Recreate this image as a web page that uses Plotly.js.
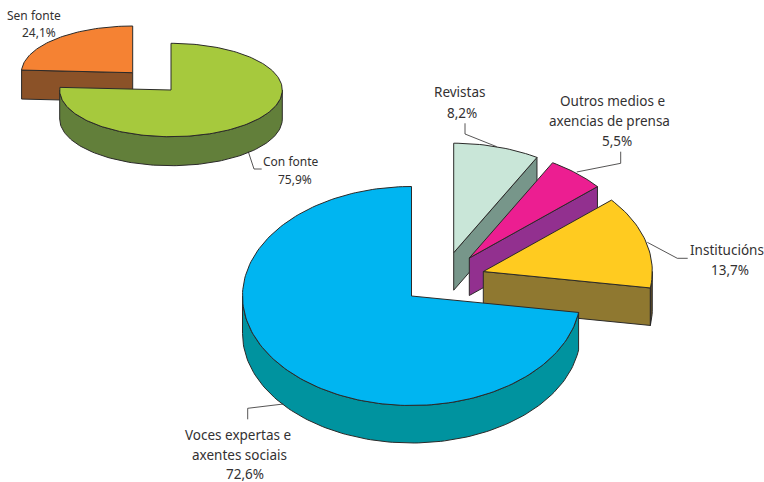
<!DOCTYPE html>
<html>
<head>
<meta charset="utf-8">
<script src="https://cdn.plot.ly/plotly-3.0.1.min.js"></script>
<style>html,body{margin:0;padding:0;background:#fff}</style>
</head>
<body>
<div id="chart" style="width:764px;height:482px"></div>
<script>
// Data, clockwise from 12 o'clock
var bigCategories = ["Revistas", "Outros medios e axencias de prensa", "Institucións", "Voces expertas e axentes sociais"];
var bigValues = [8.2, 5.5, 13.7, 72.6];
var smallCategories = ["Con fonte", "Sen fonte"];
var smallValues = [75.9, 24.1];

// Category label wrapping
var bigLines = [["Revistas"], ["Outros medios e", "axencias de prensa"], ["Institucións"], ["Voces expertas e", "axentes sociais"]];
var smallLines = [["Con fonte"], ["Sen fonte"]];

// Styles and positions
var bigStyle = [
  {top:"#C9E6D8", face:"#77968A", wall:"#77968A", cx:453.7, cy:252.7},
  {top:"#EC1E91", face:"#92308F", wall:"#92308F", cx:469.3, cy:258},
  {top:"#FFCB20", face:"#8F7830", wall:"#5F4E2A", cx:483.3, cy:271.5},
  {top:"#00B5F1", face:"#00939F", wall:"#00939F", cx:411.5, cy:296}
];
var smallStyle = [
  {top:"#A6C93D", face:"#627F3A", wall:"#627F3A", cx:171, cy:90},
  {top:"#F58233", face:"#8B5228", wall:"#8B5228", cx:132.7, cy:72.7}
];
var bigGeom = {rx:169, ry:109.5, depth:37.5};
var smallGeom = {rx:111.3, ry:46.7, depth:29};

var bigLabelPos = [
  [[459,92],[462,112.7]],
  [[612.7,100.7],[609,120.7],[617,141]],
  [[726.7,250],[730,270]],
  [[238.3,435],[239.3,455],[245,474]]
];
var smallLabelPos = [
  [[290.7,161.7],[295.3,179]],
  [[34,15.7],[38.7,32.7]]
];
var leaders = [
  [[465,123.3],[465,134],[496.7,146.7]],
  [[620.7,151.7],[620.7,163.3],[576.7,172]],
  [[647.3,242.3],[677.3,258.3],[687.7,258.3]],
  [[283.3,404],[247.7,408.3],[247.7,419.3]],
  [[248.3,151.7],[254,169],[261.7,169]]
];

var INK = "#2b2a29", TEXT = "#333132";
var FONT = '"Noto Sans", "Open Sans", sans-serif';
var BIG_SIZE = 13.5, SMALL_SIZE = 12;
var traces = [];

function rad(d){ return d*Math.PI/180; }
function px(g,c,a){ return c.cx + g.rx*Math.sin(rad(a)); }
function py(g,c,a){ return c.cy - g.ry*Math.cos(rad(a)); }
function arc(g,c,a0,a1,dy){
  var xs=[],ys=[],n=Math.max(2,Math.ceil(Math.abs(a1-a0)/1.5));
  for(var i=0;i<=n;i++){
    var a=a0+(a1-a0)*i/n;
    xs.push(px(g,c,a)); ys.push(py(g,c,a)+(dy||0));
  }
  return {x:xs,y:ys};
}
function poly(xs,ys,fill){
  traces.push({type:"scatter",mode:"lines",x:xs,y:ys,fill:"toself",fillcolor:fill,
    line:{color:INK,width:1},hoverinfo:"skip",showlegend:false});
}
function radialFace(g,c,a){
  var ex=px(g,c,a), ey=py(g,c,a);
  poly([c.cx,ex,ex,c.cx,c.cx],[c.cy,ey,ey+g.depth,c.cy+g.depth,c.cy],c.face);
}
function drawSlice(g,c,a0,a1){
  // radial cut faces that turn toward the viewer
  if(a1<180) radialFace(g,c,a1);
  if(a0>180) radialFace(g,c,a0);
  // outer wall, visible from 90 to 270 degrees
  var w0=Math.max(a0,90), w1=Math.min(a1,270);
  if(w1>w0){
    var t=arc(g,c,w0,w1,0), b=arc(g,c,w1,w0,g.depth);
    poly(t.x.concat(b.x,[t.x[0]]),t.y.concat(b.y,[t.y[0]]),c.wall);
  }
  // top surface
  var s=arc(g,c,a0,a1,0);
  poly([c.cx].concat(s.x,[c.cx]),[c.cy].concat(s.y,[c.cy]),c.top);
}
function angles(values){
  var total=values.reduce(function(p,v){return p+v;},0),acc=0;
  return values.map(function(v){var a0=acc/total*360;acc+=v;return [a0,acc/total*360];});
}

// Small pie: orange behind, then green
var sa=angles(smallValues);
drawSlice(smallGeom,smallStyle[1],sa[1][0],sa[1][1]);
drawSlice(smallGeom,smallStyle[0],sa[0][0],sa[0][1]);

// Big pie, back to front
var ba=angles(bigValues);
for(var i=0;i<bigValues.length;i++) drawSlice(bigGeom,bigStyle[i],ba[i][0],ba[i][1]);

// Leader lines
leaders.forEach(function(l){
  traces.push({type:"scatter",mode:"lines",x:l.map(function(p){return p[0];}),y:l.map(function(p){return p[1];}),
    line:{color:INK,width:0.8},hoverinfo:"skip",showlegend:false});
});

// Labels
function fmt(v){ return v.toFixed(1).replace(".",",")+"%"; }
var annotations=[];
function addLabels(lines,values,pos,size){
  lines.forEach(function(ls,i){
    ls.concat([fmt(values[i])]).forEach(function(t,j){
      annotations.push({text:t,x:pos[i][j][0],y:pos[i][j][1],xref:"x",yref:"y",showarrow:false,borderpad:0,
        xanchor:"center",yanchor:"middle",font:{family:FONT,size:size,color:TEXT}});
    });
  });
}
addLabels(bigLines,bigValues,bigLabelPos,BIG_SIZE);
addLabels(smallLines,smallValues,smallLabelPos,SMALL_SIZE);

Plotly.newPlot("chart",traces,{
  width:764,height:482,
  margin:{l:0,r:0,t:0,b:0},
  paper_bgcolor:"#fff",plot_bgcolor:"#fff",
  showlegend:false,
  xaxis:{range:[0,764],visible:false,fixedrange:true},
  yaxis:{range:[482,0],visible:false,fixedrange:true},
  annotations:annotations
},{displayModeBar:false,staticPlot:true});
</script>
</body>
</html>
